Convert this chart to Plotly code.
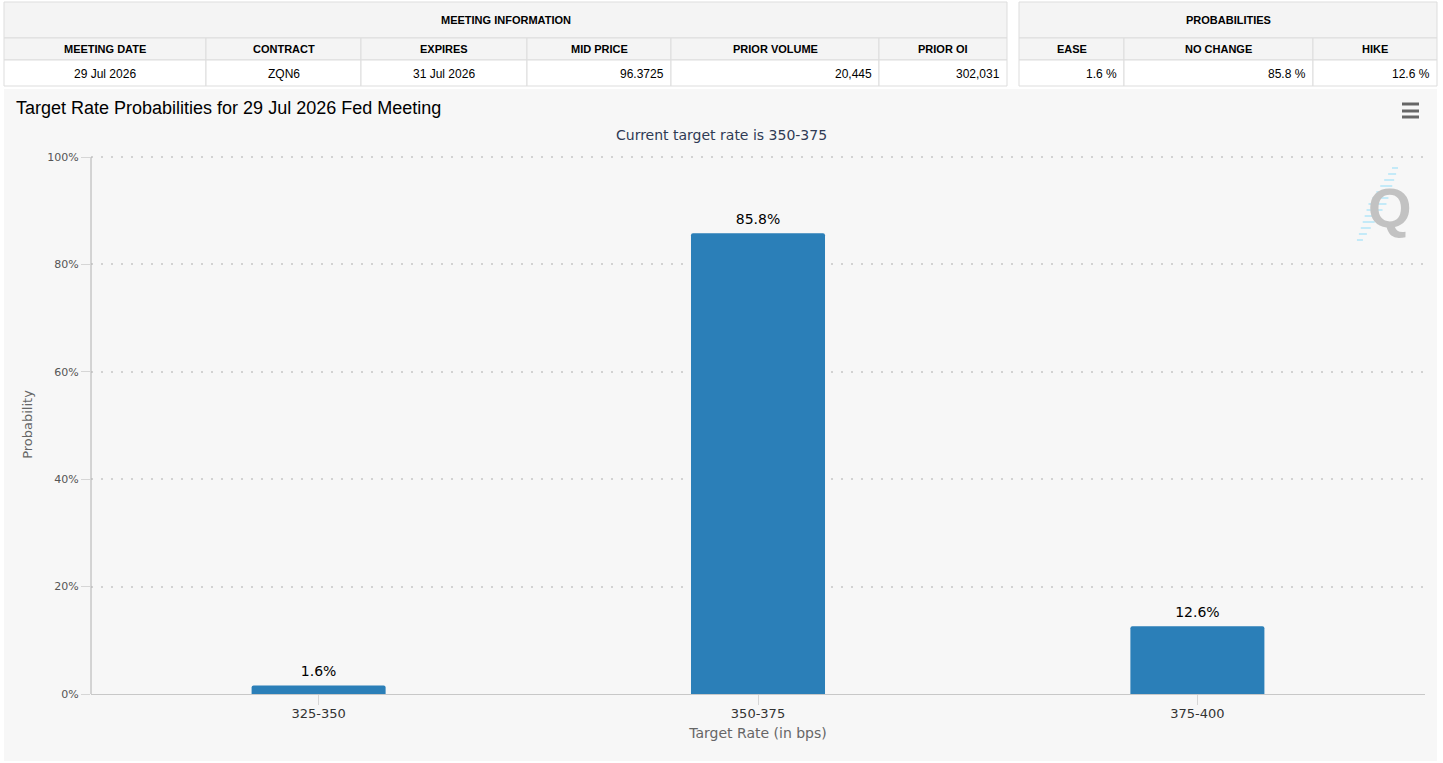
import plotly.graph_objects as go

# ---- data ----
categories = ["325-350", "350-375", "375-400"]
probabilities = [1.6, 85.8, 12.6]
y_ticks = [0, 20, 40, 60, 80, 100]
y_tick_labels = ["0%", "20%", "40%", "60%", "80%", "100%"]

meeting_title = "MEETING INFORMATION"
meeting_cols = ["MEETING DATE", "CONTRACT", "EXPIRES", "MID PRICE", "PRIOR VOLUME", "PRIOR OI"]
meeting_vals = ["29 Jul 2026", "ZQN6", "31 Jul 2026", "96.3725", "20,445", "302,031"]
prob_title = "PROBABILITIES"
prob_cols = ["EASE", "NO CHANGE", "HIKE"]
prob_vals = ["1.6 %", "85.8 %", "12.6 %"]

chart_title = "Target Rate Probabilities for 29 Jul 2026 Fed Meeting"
chart_subtitle = "Current target rate is 350-375"

# ---- layout helpers (pixel -> paper) ----
W, H = 1443, 763
def px(x):
    return x / W
def py(y):
    return 1 - y / H

FONT = "DejaVu Sans"
meeting_edges = [4, 206, 361, 527, 671, 879, 1007]
meeting_align = ["center", "center", "center", "right", "right", "right"]
prob_edges = [1019, 1124, 1313, 1437]
prob_align = ["right", "right", "right"]
row_y = [2, 38, 60, 86]

shapes = []
annotations = []

# chart panel background
shapes.append(dict(type="rect", xref="paper", yref="paper", layer="below",
                   x0=px(4), x1=px(1437), y0=py(761), y1=py(89),
                   fillcolor="#f7f7f7", line=dict(width=0)))

def build_table(title, cols, vals, edges, aligns):
    border = "#dddddd"
    shapes.append(dict(type="rect", xref="paper", yref="paper", layer="below",
                       x0=px(edges[0]), x1=px(edges[-1]), y0=py(row_y[1]), y1=py(row_y[0]),
                       fillcolor="#f4f4f4", line=dict(color=border, width=1)))
    annotations.append(dict(xref="paper", yref="paper", x=px((edges[0] + edges[-1]) / 2),
                            y=py((row_y[0] + row_y[1]) / 2), text="<b>" + title + "</b>",
                            showarrow=False, xanchor="center", yanchor="middle",
                            font=dict(family="Liberation Sans, Arial", size=11, color="#000")))
    for i, (c, v) in enumerate(zip(cols, vals)):
        x0, x1 = edges[i], edges[i + 1]
        shapes.append(dict(type="rect", xref="paper", yref="paper", layer="below",
                           x0=px(x0), x1=px(x1), y0=py(row_y[2]), y1=py(row_y[1]),
                           fillcolor="#f4f4f4", line=dict(color=border, width=1)))
        shapes.append(dict(type="rect", xref="paper", yref="paper", layer="below",
                           x0=px(x0), x1=px(x1), y0=py(row_y[3]), y1=py(row_y[2]),
                           fillcolor="#ffffff", line=dict(color=border, width=1)))
        annotations.append(dict(xref="paper", yref="paper", x=px((x0 + x1) / 2),
                                y=py((row_y[1] + row_y[2]) / 2), text="<b>" + c + "</b>",
                                showarrow=False, xanchor="center", yanchor="middle",
                                font=dict(family="Liberation Sans, Arial", size=11, color="#000")))
        if aligns[i] == "center":
            ax, anc = (x0 + x1) / 2, "center"
        else:
            ax, anc = x1 - 5, "right"
        annotations.append(dict(xref="paper", yref="paper", x=px(ax),
                                y=py((row_y[2] + row_y[3]) / 2 + 1), text=v,
                                showarrow=False, xanchor=anc, yanchor="middle",
                                font=dict(family="Liberation Sans, Arial", size=12, color="#000")))

build_table(meeting_title, meeting_cols, meeting_vals, meeting_edges, meeting_align)
build_table(prob_title, prob_cols, prob_vals, prob_edges, prob_align)

# title / subtitle
annotations.append(dict(xref="paper", yref="paper", x=px(14), y=py(108), text=chart_title,
                        showarrow=False, xanchor="left", yanchor="middle",
                        font=dict(family="Liberation Sans, Arial", size=18, color="#000")))
annotations.append(dict(xref="paper", yref="paper", x=px(721), y=py(135), text=chart_subtitle,
                        showarrow=False, xanchor="center", yanchor="middle",
                        font=dict(family=FONT, size=14, color="#2f3b55")))

# hamburger menu icon
for yy in [104, 111, 117]:
    shapes.append(dict(type="line", xref="paper", yref="paper",
                       x0=px(1402), x1=px(1419), y0=py(yy), y1=py(yy),
                       line=dict(color="#666666", width=3)))

# Q logo: slanted band of light-blue dashes + grey Q
for k in range(13):
    yy = 168 + k * 6
    cx = 1396 - (yy - 166) * (38 / 78)
    half = 3 + 6 * (1 - abs(k - 6) / 6)
    shapes.append(dict(type="line", xref="paper", yref="paper",
                       x0=px(cx - half), x1=px(cx + half), y0=py(yy), y1=py(yy),
                       line=dict(color="#c4eaf8", width=2)))
annotations.append(dict(xref="paper", yref="paper", x=px(1390), y=py(207), text="<b>Q</b>",
                        showarrow=False, xanchor="center", yanchor="middle",
                        font=dict(family="Liberation Sans Narrow, Liberation Sans, Arial", size=56, color="#c2c2c2")))

fig = go.Figure()
fig.add_trace(go.Bar(
    x=list(range(len(categories))), y=probabilities,
    width=0.305, marker=dict(color="#2b7fb8", line=dict(width=0)),
    hoverinfo="skip",
))
fig.add_trace(go.Scatter(
    x=list(range(len(categories))), y=probabilities,
    mode="markers+text", text=[f"{v:.1f}%" for v in probabilities],
    textposition="top center", cliponaxis=False,
    marker=dict(size=8, opacity=0),
    textfont=dict(family=FONT, size=14, color="#000"),
    hoverinfo="skip",
))

fig.update_layout(
    width=W, height=H,
    margin=dict(l=0, r=0, t=0, b=0, pad=0, autoexpand=False),
    paper_bgcolor="#ffffff", plot_bgcolor="rgba(0,0,0,0)",
    showlegend=False, barcornerradius=2,
    shapes=shapes, annotations=annotations,
    xaxis=dict(domain=[px(91), px(1425)], range=[-0.518, 2.518], automargin=False,
               tickvals=list(range(len(categories))), ticktext=categories,
               showgrid=False, zeroline=False, showline=True, linecolor="#c8c8c8", linewidth=1,
               ticks="outside", ticklen=10, tickcolor="#d6d6d6", ticklabelstandoff=-3,
               tickfont=dict(family=FONT, size=13, color="#333"),
               title=dict(text="Target Rate (in bps)", standoff=8,
                          font=dict(family=FONT, size=14, color="#666"))),
    yaxis=dict(domain=[py(694), py(155)], range=[0, 100 * 539 / 537], automargin=False,
               tickvals=y_ticks, ticktext=y_tick_labels,
               showgrid=True, gridcolor="#d2d2d2", griddash="2px,8px", gridwidth=2,
               zeroline=False, showline=False,
               ticks="outside", ticklen=9, tickcolor="#d6d6d6",
               tickfont=dict(family=FONT, size=11, color="#555"),
               title=dict(text="Probability", standoff=11,
                          font=dict(family=FONT, size=13, color="#666"))),
)
# y axis line spanning 0..100 only
fig.add_shape(type="line", xref="x domain", yref="y", x0=0, x1=0, y0=0, y1=100,
              line=dict(color="#b0b0b0", width=1))

fig.write_html("out.html", config={"displayModeBar": False})
